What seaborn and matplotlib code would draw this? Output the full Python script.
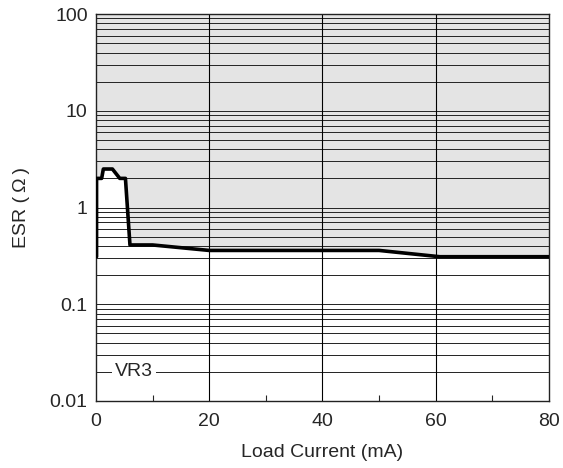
import matplotlib
matplotlib.use("Agg")
import matplotlib.pyplot as plt
import numpy as np
import pandas as pd
import seaborn as sns
from matplotlib.ticker import FixedLocator, FuncFormatter, NullFormatter

# stable-region boundary (ESR lower limit)
load_current = [0.1, 0.1, 1.0, 1.3, 2.9, 4.2, 5.2, 6.0, 10, 20, 50, 60.7, 80]
esr_min = [0.31, 2.0, 2.0, 2.5, 2.5, 2.0, 2.0, 0.41, 0.41, 0.36, 0.36, 0.31, 0.31]

x_ticks = [0, 20, 40, 60, 80]
x_minor = [10, 30, 50, 70]
y_major = [0.01, 0.1, 1, 10, 100]
y_max = 100
label_text = "VR3"

FILL = "#e4e4e4"
LINE = "#000000"
FS = 14

sns.set_style("white")
plt.rcParams["font.family"] = ["Liberation Sans", "DejaVu Sans"]

df = pd.DataFrame({"current": load_current, "esr": esr_min})

fig = plt.figure(figsize=(5.63, 4.68), dpi=100)
ax = fig.add_axes([0.1705, 0.1432, 0.8045, 0.8268])

ax.set_yscale("log")
ax.set_xlim(0, 80)
ax.set_ylim(0.01, 100)

# gray stable region above the boundary
ax.fill_between(df["current"], df["esr"], y_max, color=FILL, lw=0, zorder=0)

# horizontal grid at every log step, vertical grid at major x ticks
minor_vals = [m * 10.0 ** e for e in range(-2, 2) for m in range(2, 10)]
for v in minor_vals + y_major[1:-1]:
    ax.axhline(v, color="#222222", lw=0.7, zorder=1)
for v in x_ticks[1:-1]:
    ax.axvline(v, color="#000000", lw=0.8, zorder=1)

sns.lineplot(data=df, x="current", y="esr", estimator=None, sort=False,
             color=LINE, lw=2.6, ax=ax, zorder=3)

ax.text(6.7, 0.02, label_text, ha="center", va="center", fontsize=FS,
        bbox=dict(facecolor="white", edgecolor="none", pad=2), zorder=4)

ax.xaxis.set_major_locator(FixedLocator(x_ticks))
ax.xaxis.set_minor_locator(FixedLocator(x_minor))
ax.yaxis.set_major_locator(FixedLocator(y_major))
ax.yaxis.set_major_formatter(FuncFormatter(lambda v, p: f"{v:g}"))
ax.yaxis.set_minor_formatter(NullFormatter())
ax.tick_params(axis="x", which="major", length=0, labelsize=FS, pad=9)
ax.tick_params(axis="y", which="major", length=0, labelsize=FS, pad=6)
ax.tick_params(axis="y", which="minor", length=0)
ax.tick_params(axis="x", which="minor", direction="in", length=4, width=0.8,
               bottom=True, top=False)

for s in ax.spines.values():
    s.set_color("#222222")
    s.set_linewidth(1.0)

ax.set_xlabel("Load Current (mA)", fontsize=FS, labelpad=10)
ax.set_ylabel("ESR (\u2009\u03a9\u2009)", fontsize=FS, labelpad=14)

fig.savefig("out.png", dpi=100)
